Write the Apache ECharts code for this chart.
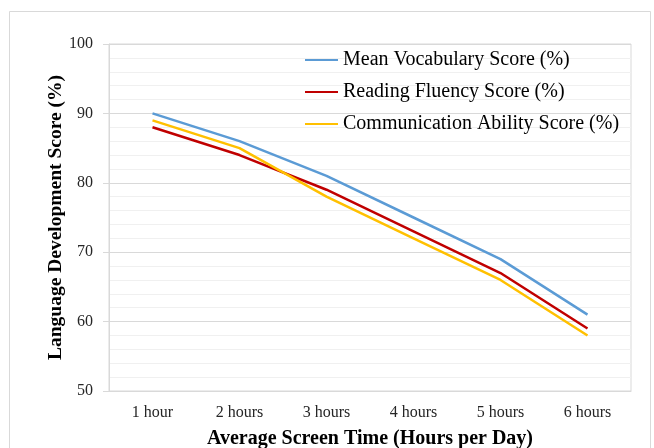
<!DOCTYPE html>
<html><head><meta charset="utf-8">
<script src="https://cdn.jsdelivr.net/npm/echarts@6/dist/echarts.min.js"></script>
<style>html,body{margin:0;padding:0;background:#fff}#c{width:654px;height:448px}</style>
</head><body><div id="c"></div>
<script>
const categories = ['1 hour','2 hours','3 hours','4 hours','5 hours','6 hours'];
const vocabulary = [90, 86, 81, 75, 69, 61];
const fluency = [88, 84, 79, 73, 67, 59];
const communication = [89, 85, 78, 72, 66, 58];
const seriesNames = ['Mean Vocabulary Score (%)','Reading Fluency Score (%)','Communication Ability Score (%)'];
const FONT = '"Liberation Serif","Times New Roman",serif';
const chart = echarts.init(document.getElementById('c'), null, {renderer:'canvas'});
chart.setOption({
  animation:false,
  backgroundColor:'#fff',
  graphic:[{type:'rect',shape:{x:9.5,y:11.5,width:641,height:460},style:{fill:'none',stroke:'#d9d9d9',lineWidth:1},silent:true}],
  grid:{left:109,right:23,top:44,bottom:57,show:true,borderColor:'#d9d9d9',borderWidth:1,outerBoundsMode:'none',containLabel:false},
  legend:{orient:'vertical',left:300,top:45,itemGap:12,itemWidth:33,itemHeight:2,icon:'rect',
    textStyle:{fontFamily:FONT,fontSize:20,color:'#000'},data:seriesNames},
  xAxis:{type:'category',data:categories,boundaryGap:true,
    axisLine:{show:true,lineStyle:{color:'#d9d9d9'}},axisTick:{show:false},
    axisLabel:{fontFamily:FONT,fontSize:16,color:'#262626',margin:14},
    name:'Average Screen Time (Hours per Day)',nameLocation:'middle',nameGap:38,nameMoveOverlap:false,
    nameTextStyle:{fontFamily:FONT,fontSize:20,fontWeight:'bold',color:'#000'}},
  yAxis:{type:'value',min:50,max:100,interval:10,
    axisLine:{show:true,lineStyle:{color:'#d9d9d9'}},
    axisTick:{show:true,length:6,lineStyle:{color:'#d9d9d9'}},
    axisLabel:{fontFamily:FONT,fontSize:16,color:'#262626',margin:16},
    splitLine:{show:true,lineStyle:{color:'#d9d9d9'}},
    minorTick:{show:true,splitNumber:5,length:0},
    minorSplitLine:{show:true,lineStyle:{color:'#f0f0f0'}},
    name:'Language Development Score (%)',nameLocation:'middle',nameGap:43,nameMoveOverlap:false,
    nameTextStyle:{fontFamily:FONT,fontSize:19.5,fontWeight:'bold',color:'#000'}},
  series:[
    {name:seriesNames[0],type:'line',data:vocabulary,showSymbol:false,lineStyle:{color:'#5B9BD5',width:2.5},itemStyle:{color:'#5B9BD5'}},
    {name:seriesNames[1],type:'line',data:fluency,showSymbol:false,lineStyle:{color:'#C00000',width:2.5},itemStyle:{color:'#C00000'}},
    {name:seriesNames[2],type:'line',data:communication,showSymbol:false,lineStyle:{color:'#FFC000',width:2.5},itemStyle:{color:'#FFC000'}}
  ]
});
</script></body></html>
